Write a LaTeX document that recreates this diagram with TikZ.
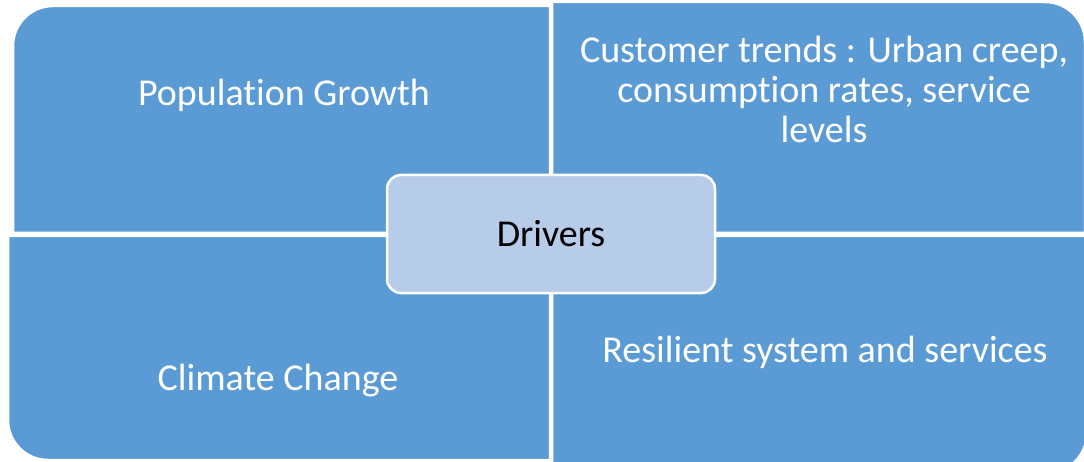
\documentclass[tikz,border=0pt]{standalone}
\usepackage{fontspec}
\setmainfont[Ligatures=NoCommon]{Carlito}
\definecolor{quadblue}{HTML}{5B9BD5}
\definecolor{hubblue}{HTML}{B7CCE8}
\begin{document}
\begin{tikzpicture}[x=1pt,y=1pt,
  quad/.style={fill=quadblue,draw=white,line width=2.5pt,line join=miter},
  quadtext/.style={text=white,font=\fontsize{38}{40}\selectfont,align=center,inner sep=0pt},
  hub/.style={fill=hubblue,draw=white,line width=2.5pt,rounded corners=14pt,
    minimum width=328pt,minimum height=118pt,inner sep=0pt,
    font=\fontsize{38}{40}\selectfont,text=black}]
  \useasboundingbox (0,0) rectangle (1084,461);
  \clip (0,0) rectangle (1084,461);
  % four quadrants, each rounded only at its outer corner
  \path[quad] (550,228) -- (13,228) -- (13,415)
     arc[start angle=180,end angle=90,radius=40] -- (550,455) -- cycle;
  \path[quad] (552,228) -- (552,459) -- (1045,459)
     arc[start angle=90,end angle=0,radius=40] -- (1085,228) -- cycle;
  \path[quad] (550,225) -- (8,225) -- (8,41)
     arc[start angle=180,end angle=270,radius=40] -- (550,1) -- cycle;
  \path[quad] (552,225) -- (1087,225) -- (1087,28)
     arc[start angle=0,end angle=-90,radius=40] -- (552,-12) -- cycle;
  % quadrant labels
  \node[quadtext] (growth) at (284,366) {Population Growth};
  \node[quadtext] (trends) at (824,372)
    {Customer trends : Urban creep,\\consumption rates, service\\levels};
  \node[quadtext] (climate) at (278,80) {Climate Change};
  \node[quadtext] (resilient) at (825,109) {Resilient system and services};
  % central hub
  \node[hub] (drivers) at (551,227) {Drivers};
\end{tikzpicture}
\end{document}
